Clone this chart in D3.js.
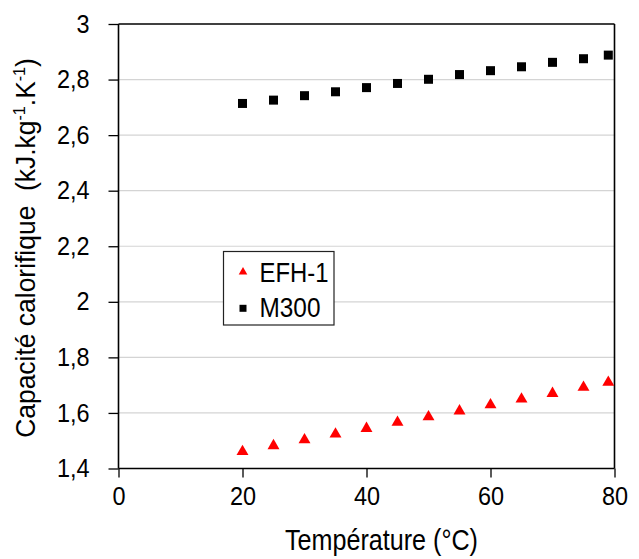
<!DOCTYPE html>
<html>
<head>
<meta charset="utf-8">
<script src="https://cdn.jsdelivr.net/npm/d3@7"></script>
<style>
  html, body { margin: 0; padding: 0; background: #fff; }
  svg { display: block; }
  text { font-family: "Liberation Sans", Arial, sans-serif; fill: #000; white-space: pre; }
</style>
</head>
<body>
<svg id="chart" width="639" height="559"></svg>
<script>
const temperatures = [20, 25, 30, 35, 40, 45, 50, 55, 60, 65, 70, 75, 79];
const efh1 = [1.461, 1.482, 1.503, 1.524, 1.544, 1.566, 1.586, 1.607, 1.629, 1.650, 1.670, 1.692, 1.710];
const m300 = [2.714, 2.726, 2.742, 2.756, 2.771, 2.786, 2.801, 2.818, 2.832, 2.846, 2.862, 2.875, 2.888];
const xTicks = [0, 20, 40, 60, 80];
const yTicks = [1.4, 1.6, 1.8, 2.0, 2.2, 2.4, 2.6, 2.8, 3.0];
const seriesNames = ["EFH-1", "M300"];

function narrow(sel, k) {
  sel.each(function () {
    const w = this.getComputedTextLength();
    d3.select(this).attr("textLength", w * k).attr("lengthAdjust", "spacingAndGlyphs");
  });
}
// place a text at (tx,ty) with rotation, squeezing it along its length to a target width
function fitText(sel, tx, ty, rot, target) {
  const w = sel.node().getBBox().width;
  sel.attr("transform", `translate(${tx},${ty}) rotate(${rot}) scale(${target / w},1)`);
}

const svg = d3.select("#chart");
const L = 118.5, R = 614.5, T = 24, B = 468.5;
const x = d3.scaleLinear().domain([0, 80]).range([L, R]);
const y = d3.scaleLinear().domain([1.4, 3.0]).range([B, T]);
const fmt = v => d3.format("~g")(v).replace(".", ",");

// gridlines
svg.append("g").selectAll("line").data(yTicks.filter(v => v > 1.4 && v < 3.0)).join("line")
  .attr("x1", L).attr("x2", R).attr("y1", d => y(d)).attr("y2", d => y(d))
  .attr("stroke", "#d4d4d4").attr("stroke-width", 1.2);

// frame
svg.append("line").attr("x1", L).attr("x2", R).attr("y1", T).attr("y2", T).attr("stroke", "#000").attr("stroke-width", 1.6);
svg.append("line").attr("x1", R).attr("x2", R).attr("y1", T).attr("y2", B).attr("stroke", "#000").attr("stroke-width", 1.6);

// axes
const yAxis = d3.axisLeft(y).tickValues(yTicks).tickFormat(fmt).tickSize(10).tickPadding(19);
const gy = svg.append("g").attr("transform", `translate(${L},0)`).call(yAxis);
const xAxis = d3.axisBottom(x).tickValues(xTicks).tickFormat(d3.format("d")).tickSize(9).tickPadding(9);
const gx = svg.append("g").attr("transform", `translate(0,${B})`).call(xAxis);
[gx, gy].forEach(g => {
  g.select(".domain").attr("stroke", "#000").attr("stroke-width", 1.6);
  g.selectAll(".tick line").attr("stroke", "#000").attr("stroke-width", 1.3);
  g.selectAll(".tick text").attr("font-size", 25.5).attr("fill", "#000")
    .style("font-family", '"Liberation Sans", Arial, sans-serif').call(narrow, 0.92);
});
gx.select(".domain").attr("d", `M${L},0H${R}`);
gy.select(".domain").attr("d", `M0,${B}V${T}`);

// axis titles
const xt = svg.append("text").attr("text-anchor", "middle").attr("font-size", 30)
  .text("Température (°C)");
fitText(xt, 381.5, 550, 0, 193);
const yt = svg.append("text").attr("text-anchor", "middle").attr("font-size", 28);
yt.append("tspan").text("Capacité calorifique  (kJ.kg");
yt.append("tspan").attr("dy", -10).attr("font-size", 17).text("-1");
yt.append("tspan").attr("dy", 10).text(".K");
yt.append("tspan").attr("dy", -10).attr("font-size", 17).text("-1");
yt.append("tspan").attr("dy", 10).text(")");
fitText(yt, 35, 248, -90, 380);

// data
const m300Data = temperatures.map((t, i) => ({t, v: m300[i]}));
const efhData = temperatures.map((t, i) => ({t, v: efh1[i]}));
const sq = 9;
svg.append("g").selectAll("rect").data(m300Data).join("rect")
  .attr("x", d => x(d.t) - sq / 2).attr("y", d => y(d.v) - sq / 2)
  .attr("width", sq).attr("height", sq).attr("fill", "#000");
const tri = d3.symbol().type(d3.symbolTriangle).size(62);
svg.append("g").selectAll("path").data(efhData).join("path")
  .attr("transform", d => `translate(${x(d.t)},${y(d.v)})`)
  .attr("d", tri).attr("fill", "#ff0000");

// legend
const lg = svg.append("g");
lg.append("rect").attr("x", 223.5).attr("y", 251.5).attr("width", 110.5).attr("height", 73.5)
  .attr("fill", "#fff").attr("stroke", "#222").attr("stroke-width", 1.2);
lg.append("path").attr("transform", "translate(243,272)").attr("d", d3.symbol().type(d3.symbolTriangle).size(32)).attr("fill", "#ff0000");
lg.append("rect").attr("x", 239.5).attr("y", 304.8).attr("width", 7).attr("height", 7).attr("fill", "#000");
const l1 = lg.append("text").attr("font-size", 28.5).text(seriesNames[0]);
fitText(l1, 259.5, 282, 0, 69);
const l2 = lg.append("text").attr("font-size", 28.5).text(seriesNames[1]);
fitText(l2, 259.5, 316.5, 0, 61);
</script>
</body>
</html>
